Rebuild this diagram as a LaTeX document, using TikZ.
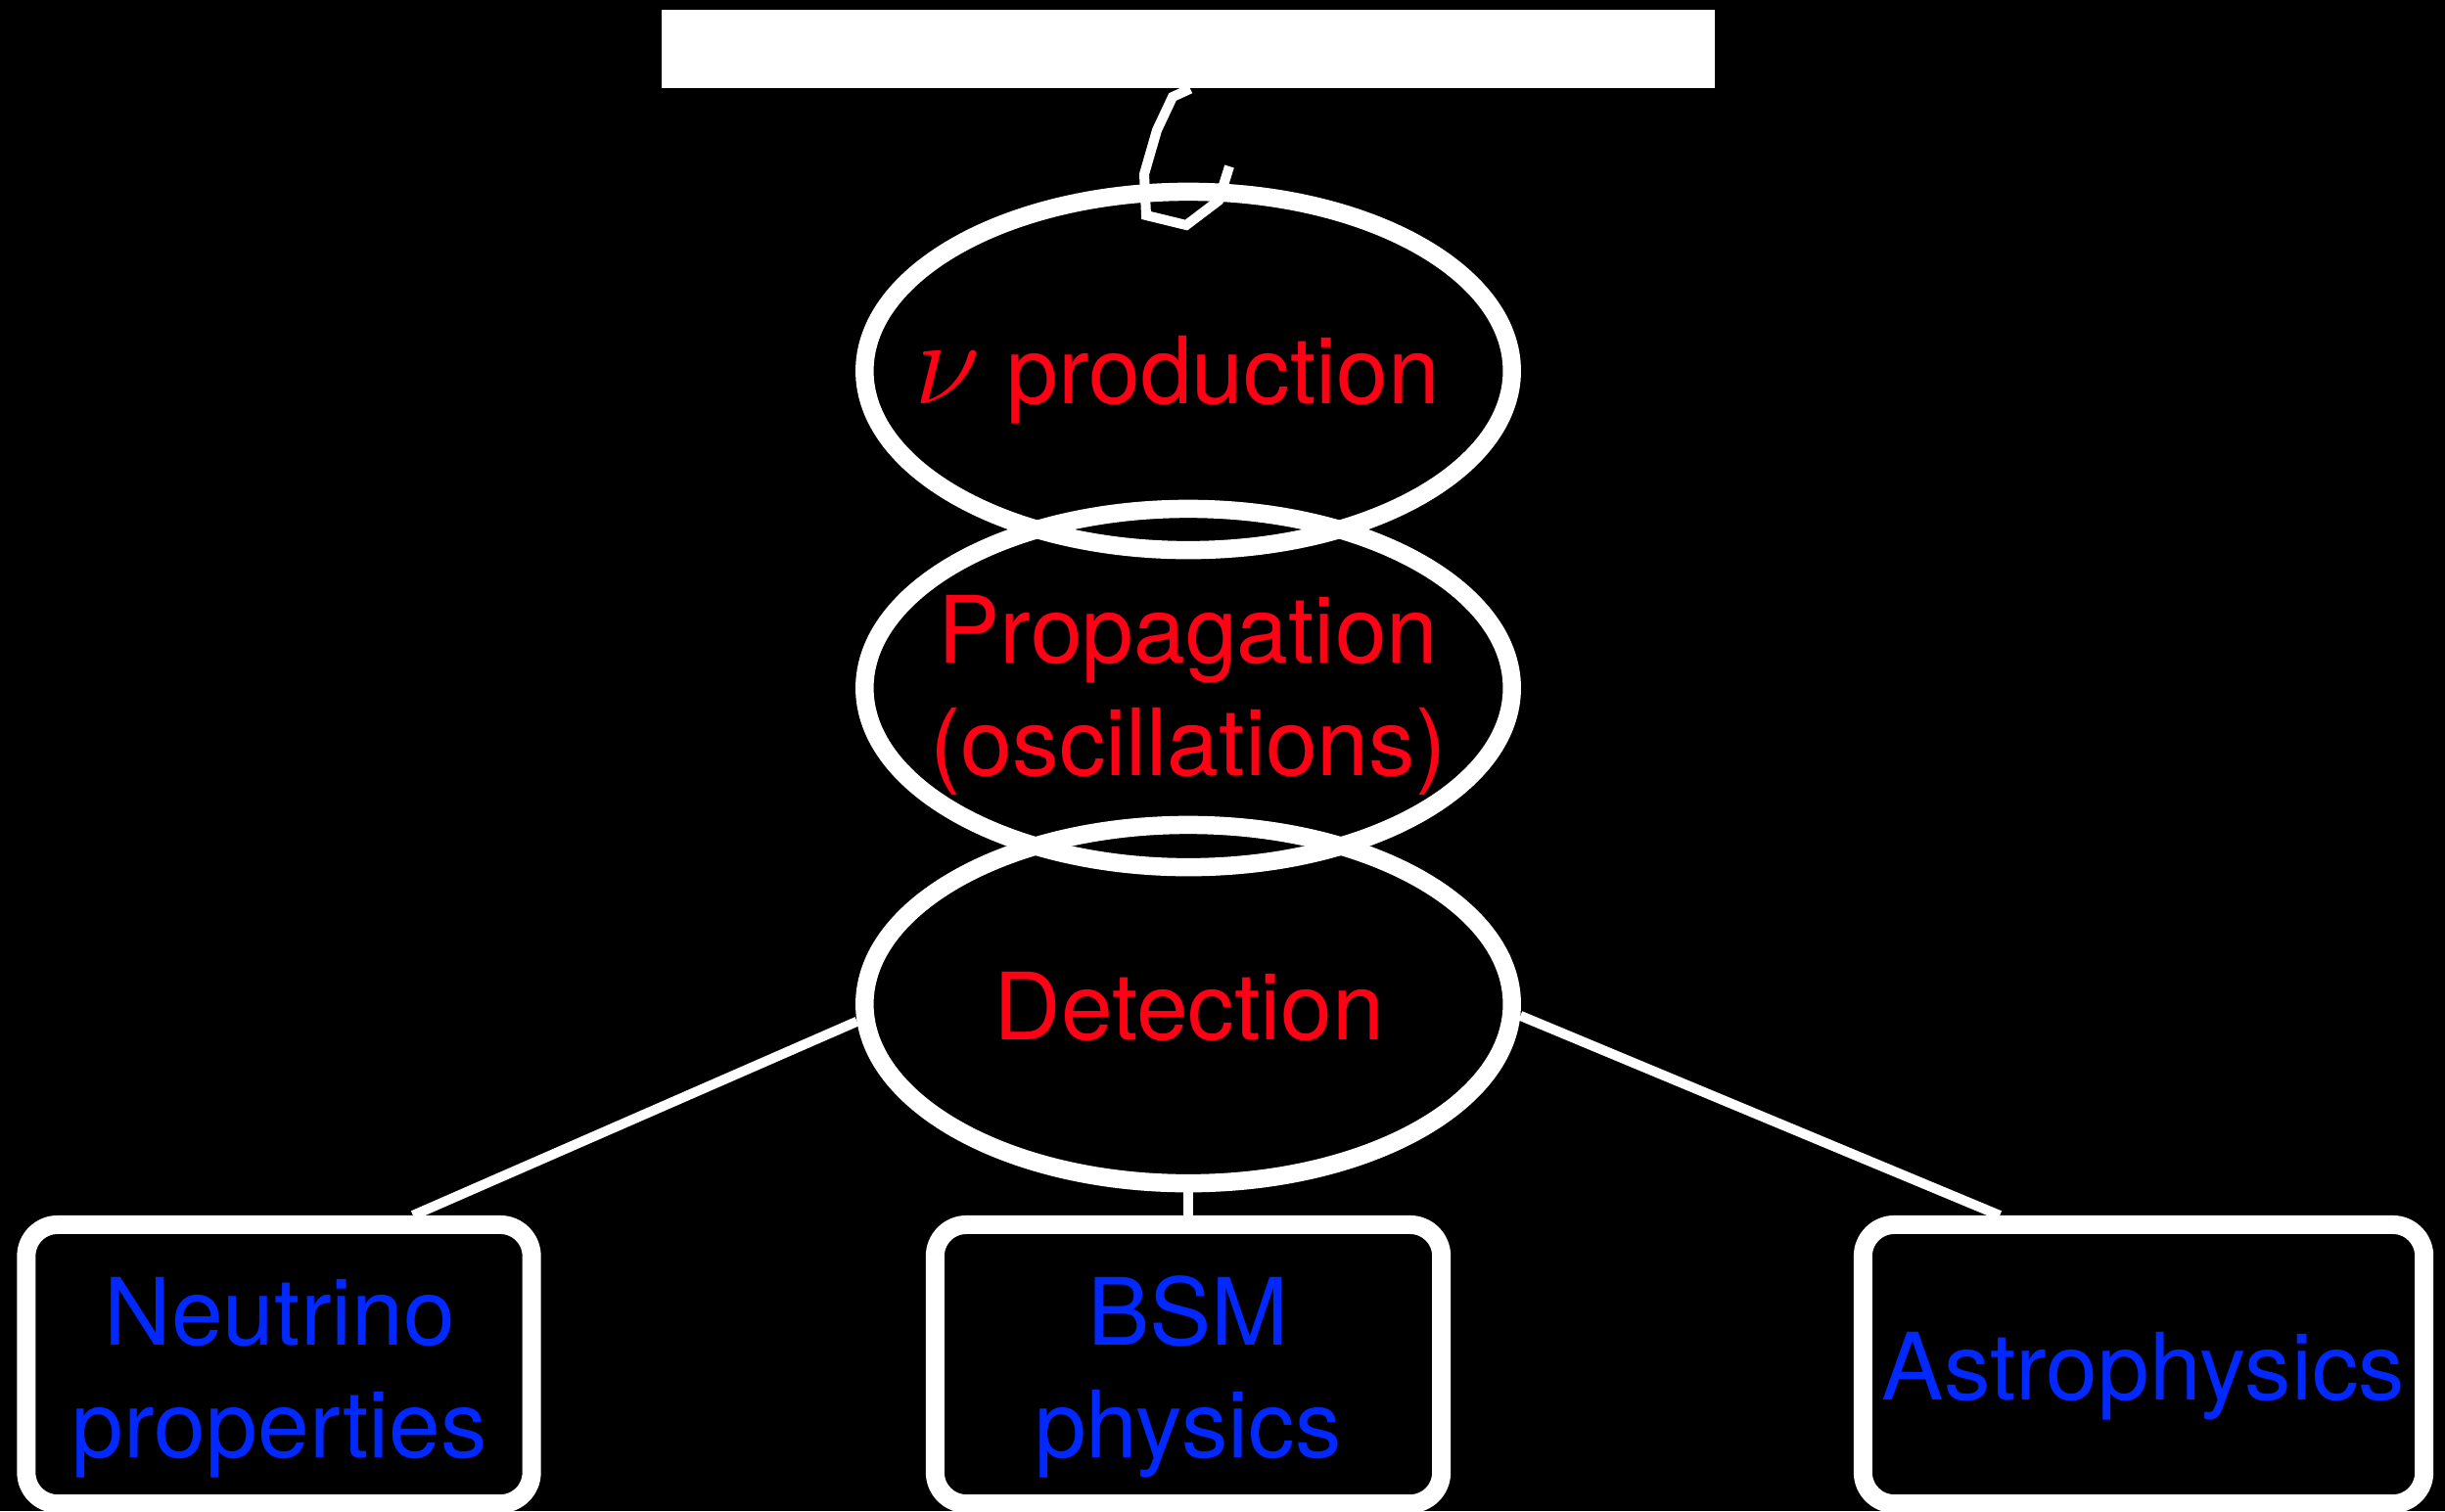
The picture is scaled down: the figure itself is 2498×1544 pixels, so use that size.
\RequirePackage{fix-cm}
\documentclass[tikz,border=0pt]{standalone}
\usepackage{fontspec}
\setmainfont{TeX Gyre Heros}
\usetikzlibrary{shapes.geometric}
\definecolor{stagered}{RGB}{255,0,20}
\definecolor{topicblue}{RGB}{0,40,255}

\tikzset{
  bigtext/.style={font=\fontsize{27}{32.7}\selectfont, align=center, inner sep=0pt},
}

\begin{document}
\begin{tikzpicture}[x=0.01cm, y=-0.01cm]
        \tikzstyle{stage}=[ellipse,draw=white,line width=0.185cm,minimum width=6.61cm,minimum height=3.66cm,inner sep=0pt]
        \tikzstyle{topic}=[rectangle,draw=white,rounded corners=0.32cm,line width=0.19cm,minimum height=2.85cm,inner sep=0pt]
        \tikzstyle{stagelabel}=[bigtext,text=stagered,anchor=base]
        \tikzstyle{topiclabel}=[bigtext,text=topicblue,anchor=base]
        \tikzstyle{link}=[white,line width=0.1cm]

        \useasboundingbox (0,0) rectangle (2498,1544);
        \fill[black] (0,0) rectangle (2498,1544);

        \node[fill=white,minimum width=10.76cm,minimum height=0.8cm,inner sep=0pt] (T) at (1214,50) {};

        \node[stage] (S_1) at (1214,379)  {};
        \node[stage] (S_2) at (1214,703)  {};
        \node[stage] (S_3) at (1214,1026) {};

        \node[topic,minimum width=5.16cm] (A_1) at (285,1394)  {};
        \node[topic,minimum width=5.17cm] (A_2) at (1214,1394) {};
        \node[topic,minimum width=5.73cm] (A_3) at (2190,1394) {};

        % base of a two-line label is its last line
        \node[stagelabel] (L_1) at (1203,412)  {{\fontsize{35}{35}\selectfont$\nu$} production};
        \node[stagelabel] (L_2) at (1214,792)  {Propagation\\(oscillations)};
        \node[stagelabel] (L_3) at (1215,1062) {Detection};

        \node[topiclabel] (M_1) at (286,1489)  {Neutrino\\properties};
        \node[topiclabel] (M_2) at (1214,1489) {BSM\\physics};
        \node[topiclabel] (M_3) at (2190,1430) {Astrophysics};

        \draw[link] ([xshift=0.02cm]T.south) -- (1198,99) -- (1182,133) -- (1169,178) -- (1171,220) -- (1212,230) -- (1245,205) -- (1256,170);

        \draw[link] (S_3.183) -- (A_1.48);
        \draw[link] (S_3.south) -- (A_2.north);
        \draw[link] (S_3.-2) -- (A_3.134);
\end{tikzpicture}
\end{document}
